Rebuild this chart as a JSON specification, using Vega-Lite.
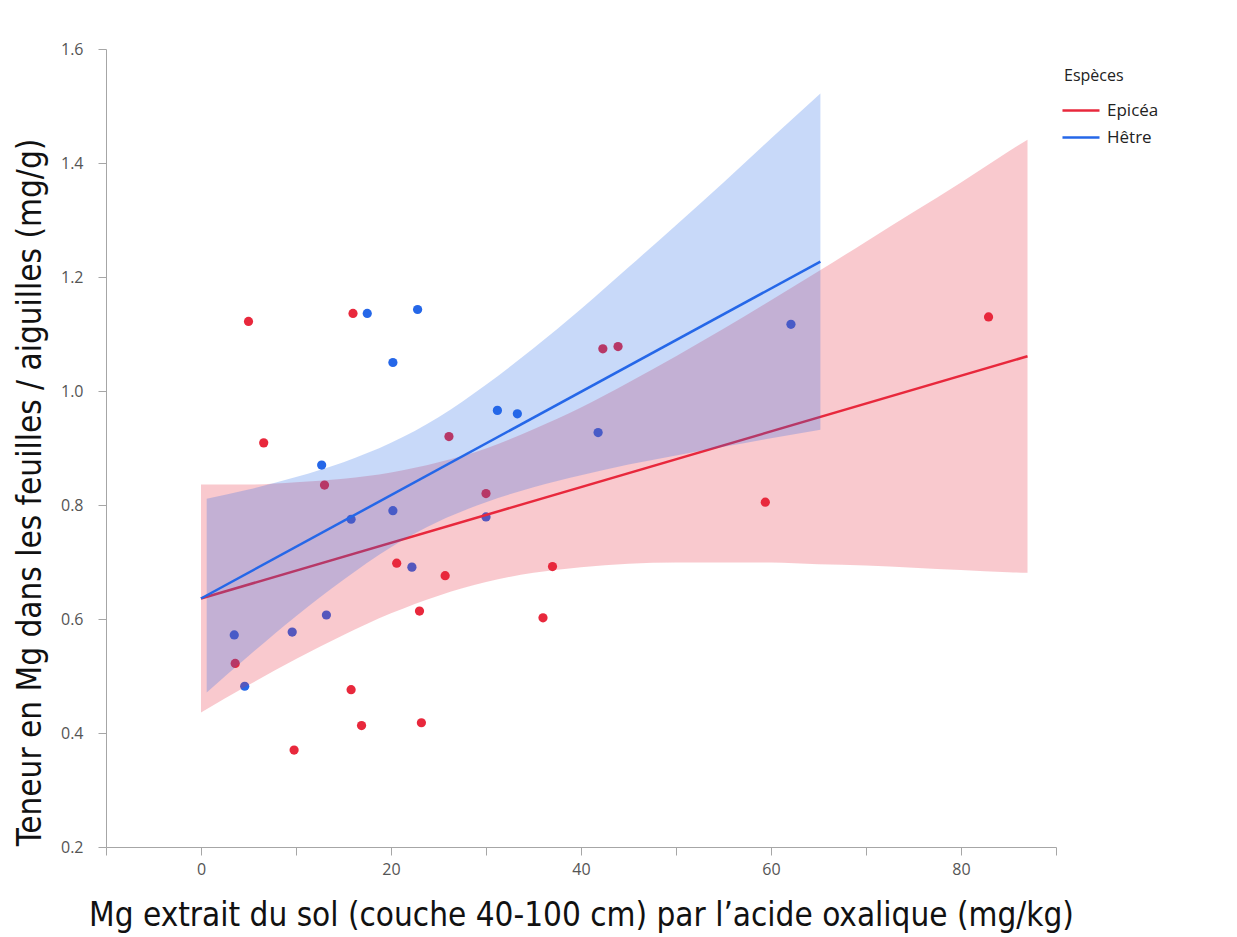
{
  "$schema": "https://vega.github.io/schema/vega-lite/v6.json",
  "width": 950,
  "height": 798,
  "autosize": {"type": "none"},
  "padding": {"left": 106, "top": 49, "right": 181, "bottom": 90},
  "background": "white",
  "config": {
    "view": {"stroke": null},
    "axis": {
      "grid": false,
      "domainColor": "#a6a6a6",
      "tickColor": "#a6a6a6",
      "labelColor": "#555555",
      "labelFont": "Open Sans",
      "labelFontSize": 16,
      "titleColor": "#111111",
      "titleFont": "Liberation Sans Narrow, DejaVu Sans Condensed, Lato",
      "titleFontSize": 33,
      "titleFontWeight": "normal"
    },
    "legend": {
      "titleFont": "Open Sans",
      "titleFontSize": 16,
      "titleFontWeight": "normal",
      "titleColor": "#222222",
      "labelFont": "Open Sans",
      "labelFontSize": 17,
      "labelColor": "#222222",
      "symbolType": "M-1.67,0H4.5",
      "symbolSize": 144,
      "symbolStrokeWidth": 2.5
    }
  },
  "datasets": {
    "points": [
      {"x": 5.0, "y": 1.122, "esp": "Epicéa"},
      {"x": 16.0, "y": 1.136, "esp": "Epicéa"},
      {"x": 6.6, "y": 0.909, "esp": "Epicéa"},
      {"x": 26.1, "y": 0.920, "esp": "Epicéa"},
      {"x": 13.0, "y": 0.835, "esp": "Epicéa"},
      {"x": 30.0, "y": 0.820, "esp": "Epicéa"},
      {"x": 20.6, "y": 0.698, "esp": "Epicéa"},
      {"x": 25.7, "y": 0.676, "esp": "Epicéa"},
      {"x": 37.0, "y": 0.692, "esp": "Epicéa"},
      {"x": 23.0, "y": 0.614, "esp": "Epicéa"},
      {"x": 36.0, "y": 0.602, "esp": "Epicéa"},
      {"x": 3.6, "y": 0.522, "esp": "Epicéa"},
      {"x": 15.8, "y": 0.476, "esp": "Epicéa"},
      {"x": 16.9, "y": 0.413, "esp": "Epicéa"},
      {"x": 23.2, "y": 0.418, "esp": "Epicéa"},
      {"x": 9.8, "y": 0.370, "esp": "Epicéa"},
      {"x": 42.3, "y": 1.074, "esp": "Epicéa"},
      {"x": 43.9, "y": 1.078, "esp": "Epicéa"},
      {"x": 59.4, "y": 0.805, "esp": "Epicéa"},
      {"x": 82.9, "y": 1.130, "esp": "Epicéa"},
      {"x": 17.5, "y": 1.136, "esp": "Hêtre"},
      {"x": 22.8, "y": 1.143, "esp": "Hêtre"},
      {"x": 20.2, "y": 1.050, "esp": "Hêtre"},
      {"x": 31.2, "y": 0.966, "esp": "Hêtre"},
      {"x": 33.3, "y": 0.960, "esp": "Hêtre"},
      {"x": 12.7, "y": 0.870, "esp": "Hêtre"},
      {"x": 41.8, "y": 0.927, "esp": "Hêtre"},
      {"x": 15.8, "y": 0.775, "esp": "Hêtre"},
      {"x": 20.2, "y": 0.790, "esp": "Hêtre"},
      {"x": 30.0, "y": 0.779, "esp": "Hêtre"},
      {"x": 22.2, "y": 0.691, "esp": "Hêtre"},
      {"x": 13.2, "y": 0.607, "esp": "Hêtre"},
      {"x": 9.6, "y": 0.577, "esp": "Hêtre"},
      {"x": 3.5, "y": 0.572, "esp": "Hêtre"},
      {"x": 4.6, "y": 0.482, "esp": "Hêtre"},
      {"x": 62.1, "y": 1.117, "esp": "Hêtre"}
    ],
    "fits": [
      {"x": 0, "y": 0.636, "esp": "Epicéa"},
      {"x": 87, "y": 1.061, "esp": "Epicéa"},
      {"x": 0, "y": 0.636, "esp": "Hêtre"},
      {"x": 65.2, "y": 1.227, "esp": "Hêtre"}
    ],
    "bands": [
      {"x": 0, "lo": 0.436, "hi": 0.836, "esp": "Epicéa"},
      {"x": 5, "lo": 0.484, "hi": 0.836, "esp": "Epicéa"},
      {"x": 10, "lo": 0.530, "hi": 0.840, "esp": "Epicéa"},
      {"x": 15, "lo": 0.572, "hi": 0.846, "esp": "Epicéa"},
      {"x": 20, "lo": 0.610, "hi": 0.857, "esp": "Epicéa"},
      {"x": 25, "lo": 0.641, "hi": 0.875, "esp": "Epicéa"},
      {"x": 30, "lo": 0.665, "hi": 0.899, "esp": "Epicéa"},
      {"x": 35, "lo": 0.681, "hi": 0.933, "esp": "Epicéa"},
      {"x": 40, "lo": 0.691, "hi": 0.971, "esp": "Epicéa"},
      {"x": 45, "lo": 0.697, "hi": 1.015, "esp": "Epicéa"},
      {"x": 50, "lo": 0.699, "hi": 1.061, "esp": "Epicéa"},
      {"x": 55, "lo": 0.699, "hi": 1.109, "esp": "Epicéa"},
      {"x": 60, "lo": 0.699, "hi": 1.159, "esp": "Epicéa"},
      {"x": 65, "lo": 0.696, "hi": 1.210, "esp": "Epicéa"},
      {"x": 70, "lo": 0.694, "hi": 1.262, "esp": "Epicéa"},
      {"x": 75, "lo": 0.690, "hi": 1.314, "esp": "Epicéa"},
      {"x": 80, "lo": 0.686, "hi": 1.366, "esp": "Epicéa"},
      {"x": 85, "lo": 0.682, "hi": 1.420, "esp": "Epicéa"},
      {"x": 87, "lo": 0.681, "hi": 1.441, "esp": "Epicéa"},
      {"x": 0.6, "lo": 0.471, "hi": 0.811, "esp": "Hêtre"},
      {"x": 5, "lo": 0.535, "hi": 0.827, "esp": "Hêtre"},
      {"x": 10, "lo": 0.605, "hi": 0.849, "esp": "Hêtre"},
      {"x": 15, "lo": 0.669, "hi": 0.875, "esp": "Hêtre"},
      {"x": 20, "lo": 0.726, "hi": 0.909, "esp": "Hêtre"},
      {"x": 25, "lo": 0.771, "hi": 0.954, "esp": "Hêtre"},
      {"x": 30, "lo": 0.805, "hi": 1.011, "esp": "Hêtre"},
      {"x": 35, "lo": 0.831, "hi": 1.075, "esp": "Hêtre"},
      {"x": 40, "lo": 0.852, "hi": 1.144, "esp": "Hêtre"},
      {"x": 45, "lo": 0.871, "hi": 1.217, "esp": "Hêtre"},
      {"x": 50, "lo": 0.887, "hi": 1.291, "esp": "Hêtre"},
      {"x": 55, "lo": 0.902, "hi": 1.366, "esp": "Hêtre"},
      {"x": 60, "lo": 0.917, "hi": 1.443, "esp": "Hêtre"},
      {"x": 65.2, "lo": 0.932, "hi": 1.522, "esp": "Hêtre"}
    ]
  },
  "encoding": {
    "x": {
      "field": "x",
      "type": "quantitative",
      "scale": {"domain": [-10, 90], "nice": false, "zero": false},
      "axis": {
        "title": "Mg extrait du sol (couche 40-100 cm) par l’acide oxalique (mg/kg)",
        "values": [-10, 0, 10, 20, 30, 40, 50, 60, 70, 80, 90],
        "labelExpr": "(datum.value % 20 === 0 && datum.value >= 0 && datum.value <= 80) ? datum.label : ''",
        "tickSize": 8,
        "labelPadding": 6,
        "titleBaseline": "middle",
        "titleY": 68
      }
    },
    "y": {
      "field": "y",
      "type": "quantitative",
      "scale": {"domain": [0.2, 1.6], "nice": false, "zero": false},
      "axis": {
        "title": "Teneur en Mg dans les feuilles / aiguilles (mg/g)",
        "values": [0.2, 0.4, 0.6, 0.8, 1.0, 1.2, 1.4, 1.6],
        "format": ".1f",
        "tickSize": 8,
        "labelPadding": 15,
        "titleAngle": -90,
        "titleBaseline": "middle",
        "titleAlign": "center",
        "titleX": -76,
        "titleY": 443
      }
    }
  },
  "layer": [
    {
      "data": {"name": "points"},
      "transform": [{"filter": "datum.esp === 'Epicéa'"}],
      "mark": {"type": "circle", "size": 85, "opacity": 1, "color": "#E8283C"}
    },
    {
      "data": {"name": "points"},
      "transform": [{"filter": "datum.esp === 'Hêtre'"}],
      "mark": {"type": "circle", "size": 85, "opacity": 1, "color": "#2567E8"}
    },
    {
      "data": {"name": "bands"},
      "transform": [{"filter": "datum.esp === 'Epicéa'"}],
      "mark": {"type": "area", "color": "#E8283C", "opacity": 0.25, "interpolate": "monotone"},
      "encoding": {
        "y": {"field": "lo", "type": "quantitative"},
        "y2": {"field": "hi"}
      }
    },
    {
      "data": {"name": "fits"},
      "transform": [{"filter": "datum.esp === 'Epicéa'"}],
      "mark": {"type": "line", "strokeWidth": 2.5},
      "encoding": {
        "color": {"field": "esp", "type": "nominal",
          "scale": {"domain": ["Epicéa", "Hêtre"], "range": ["#E8283C", "#2567E8"]},
          "legend": {"title": "Espèces", "orient": "none", "legendX": 958, "legendY": 19, "rowPadding": 9, "titlePadding": 18, "labelOffset": 26}}
      }
    },
    {
      "data": {"name": "bands"},
      "transform": [{"filter": "datum.esp === 'Hêtre'"}],
      "mark": {"type": "area", "color": "#2567E8", "opacity": 0.25, "interpolate": "monotone"},
      "encoding": {
        "y": {"field": "lo", "type": "quantitative"},
        "y2": {"field": "hi"}
      }
    },
    {
      "data": {"name": "fits"},
      "transform": [{"filter": "datum.esp === 'Hêtre'"}],
      "mark": {"type": "line", "strokeWidth": 2.5},
      "encoding": {
        "color": {"field": "esp", "type": "nominal",
          "scale": {"domain": ["Epicéa", "Hêtre"], "range": ["#E8283C", "#2567E8"]}}
      }
    },
    {
      "data": {"values": [{"x": 90}]},
      "mark": {"type": "rule", "color": "#bdbdbd", "strokeWidth": 1},
      "encoding": {"x": {"field": "x", "type": "quantitative"}}
    }
  ]
}
